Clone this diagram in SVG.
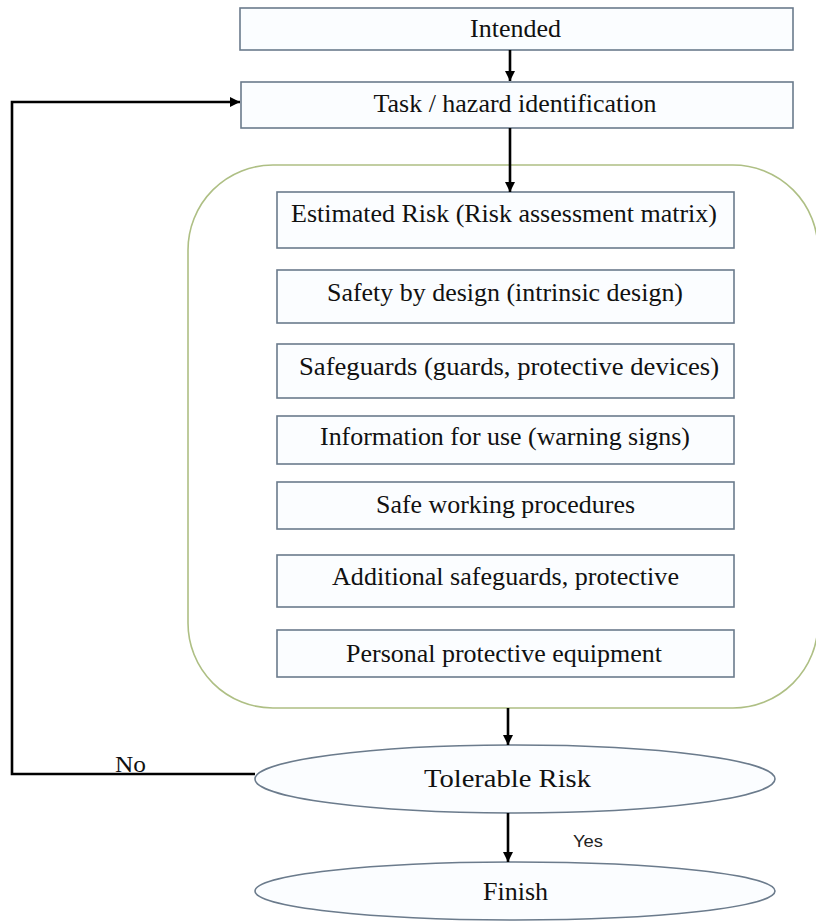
<svg xmlns="http://www.w3.org/2000/svg" width="816" height="921" viewBox="0 0 816 921">
<defs>
<marker id="ah" viewBox="0 0 10 10" refX="10" refY="5" markerWidth="4" markerHeight="4" orient="auto" markerUnits="strokeWidth">
<path d="M0,0 L10,5 L0,10 z" fill="#000"/>
</marker>
<style>
.box{fill:#fbfdff;stroke:#6b7b8c;stroke-width:1.6}
.ell{fill:#fbfdff;stroke:#6b7b8c;stroke-width:1.6}
.cont{fill:#ffffff;stroke:#aebf84;stroke-width:1.6}
.t{font-family:"Liberation Serif","Times New Roman",serif;font-size:26px;fill:#111;text-anchor:middle}
.lbl{font-family:"Liberation Serif","Times New Roman",serif;font-size:23px;fill:#111;text-anchor:middle}
.yes{font-family:"Liberation Sans",Arial,sans-serif;font-size:16px;fill:#222;text-anchor:middle}
.c{fill:none;stroke:#000;stroke-width:2.6}
</style>
</defs>
<rect width="816" height="921" fill="#ffffff"/>
<g id="container">
<rect class="cont" x="188" y="165" width="630" height="543" rx="85" ry="85"/>
</g>
<g id="intended">
<rect class="box" x="240" y="8" width="553" height="42"/>
<text class="t" x="515.5" y="37" textLength="91" lengthAdjust="spacingAndGlyphs">Intended</text>
</g>
<g id="task">
<rect class="box" x="241" y="82" width="552" height="46"/>
<text class="t" x="515" y="112" textLength="283" lengthAdjust="spacingAndGlyphs">Task / hazard identification</text>
</g>
<g id="estimated">
<rect class="box" x="277" y="192" width="457" height="56"/>
<text class="t" x="504" y="222" textLength="426" lengthAdjust="spacingAndGlyphs">Estimated Risk (Risk assessment matrix)</text>
</g>
<g id="safety-design">
<rect class="box" x="277" y="270" width="457" height="53"/>
<text class="t" x="505" y="301" textLength="356" lengthAdjust="spacingAndGlyphs">Safety by design (intrinsic design)</text>
</g>
<g id="safeguards">
<rect class="box" x="277" y="344" width="457" height="54"/>
<text class="t" x="509" y="375" textLength="420" lengthAdjust="spacingAndGlyphs">Safeguards (guards, protective devices)</text>
</g>
<g id="information">
<rect class="box" x="277" y="416" width="457" height="48"/>
<text class="t" x="505" y="445" textLength="370" lengthAdjust="spacingAndGlyphs">Information for use (warning signs)</text>
</g>
<g id="procedures">
<rect class="box" x="277" y="482" width="457" height="47"/>
<text class="t" x="505.5" y="513" textLength="259" lengthAdjust="spacingAndGlyphs">Safe working procedures</text>
</g>
<g id="additional">
<rect class="box" x="277" y="555" width="457" height="52"/>
<text class="t" x="505.5" y="585" textLength="347" lengthAdjust="spacingAndGlyphs">Additional safeguards, protective</text>
</g>
<g id="ppe">
<rect class="box" x="277" y="630" width="457" height="47"/>
<text class="t" x="504" y="662" textLength="316" lengthAdjust="spacingAndGlyphs">Personal protective equipment</text>
</g>
<g id="tolerable">
<ellipse class="ell" cx="515" cy="779" rx="260" ry="34"/>
<text class="t" x="507.5" y="787" textLength="167" lengthAdjust="spacingAndGlyphs">Tolerable Risk</text>
</g>
<g id="finish">
<ellipse class="ell" cx="515" cy="891" rx="260" ry="29"/>
<text class="t" x="515.5" y="900" textLength="65" lengthAdjust="spacingAndGlyphs">Finish</text>
</g>
<g id="connectors">
<line class="c" x1="510" y1="50" x2="510" y2="81" marker-end="url(#ah)"/>
<line class="c" x1="510" y1="128" x2="510" y2="192" marker-end="url(#ah)"/>
<line class="c" x1="508" y1="708" x2="508" y2="745" marker-end="url(#ah)"/>
<line class="c" x1="508" y1="813" x2="508" y2="862" marker-end="url(#ah)"/>
<path class="c" d="M255,774 H12 V102 H240" marker-end="url(#ah)"/>
<text class="lbl" x="130.5" y="772" textLength="31" lengthAdjust="spacingAndGlyphs">No</text>
<text class="yes" x="588" y="847" textLength="30" lengthAdjust="spacingAndGlyphs">Yes</text>
</g>
</svg>
